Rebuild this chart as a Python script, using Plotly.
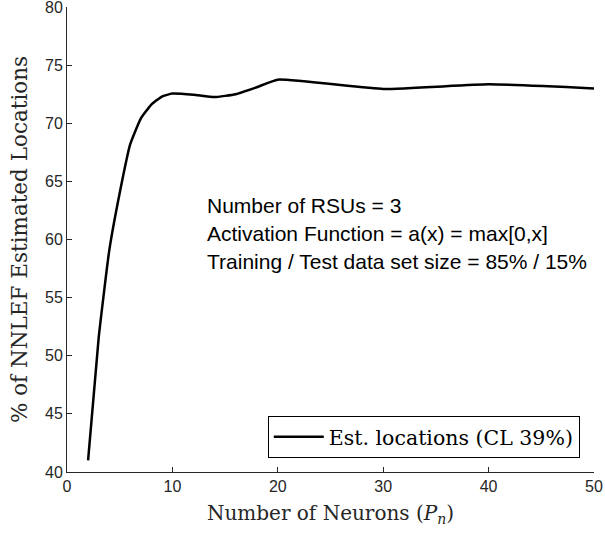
import plotly.graph_objects as go

neurons = [2, 3, 4, 5, 6, 7, 8, 9, 10, 12, 14, 16, 18, 20, 30, 40, 50]
est_pct = [41.0, 51.5, 59.0, 64.0, 68.2, 70.4, 71.6, 72.3, 72.55, 72.45, 72.25, 72.5, 73.1, 73.75, 72.95, 73.35, 73.0]

x_ticks = [0, 10, 20, 30, 40, 50]
y_ticks = [40, 45, 50, 55, 60, 65, 70, 75, 80]

info_lines = [
    "Number of RSUs = 3",
    "Activation Function = a(x) = max[0,x]",
    "Training / Test data set size = 85% / 15%",
]

axis_col = "#262626"
serif = "DejaVu Serif, serif"
sans = "Liberation Sans, Arial, sans-serif"

fig = go.Figure()
fig.add_trace(go.Scatter(
    x=neurons, y=est_pct, mode="lines",
    line=dict(color="black", width=2.5, shape="spline", smoothing=0.4),
    name="Est. locations (CL 39%)",
))

ypos = [0.574, 0.512, 0.452]
for t, yp in zip(info_lines, ypos):
    fig.add_annotation(text=t, xref="paper", yref="paper", x=0.262, y=yp,
                       xanchor="left", yanchor="middle", showarrow=False,
                       font=dict(family=sans, size=21, color="black"))

fig.update_layout(
    width=605, height=533,
    margin=dict(l=67, r=11, t=7, b=61),
    paper_bgcolor="white", plot_bgcolor="white",
    showlegend=True,
    legend=dict(x=0.973, y=0.03, xanchor="right", yanchor="bottom",
                bgcolor="white", bordercolor="black", borderwidth=1,
                font=dict(family=serif, size=20.5, color="black"),
                itemwidth=50, tracegroupgap=0),
    xaxis=dict(range=[0, 50], tickvals=x_ticks, ticks="inside", ticklen=5,
               tickcolor=axis_col, showline=True, linecolor=axis_col, linewidth=1,
               showgrid=False, zeroline=False, mirror=False, automargin=False,
               ticklabeloverflow="allow",
               tickfont=dict(family=sans, size=16, color=axis_col),
               title=dict(text="Number of Neurons (<i>P<sub>n</sub></i>)",
                          font=dict(family=serif, size=20, color=axis_col), standoff=11)),
    yaxis=dict(range=[40, 80], tickvals=y_ticks, ticks="inside", ticklen=5,
               tickcolor=axis_col, showline=True, linecolor=axis_col, linewidth=1,
               showgrid=False, zeroline=False, mirror=False, automargin=False,
               ticklabeloverflow="allow",
               tickfont=dict(family=sans, size=16, color=axis_col),
               title=dict(text="% of NNLEF Estimated Locations",
                          font=dict(family=serif, size=21.5, color=axis_col), standoff=11)),
)

fig.write_html("out.html", config={"displayModeBar": False},
               post_script="document.body.style.margin='0';")
